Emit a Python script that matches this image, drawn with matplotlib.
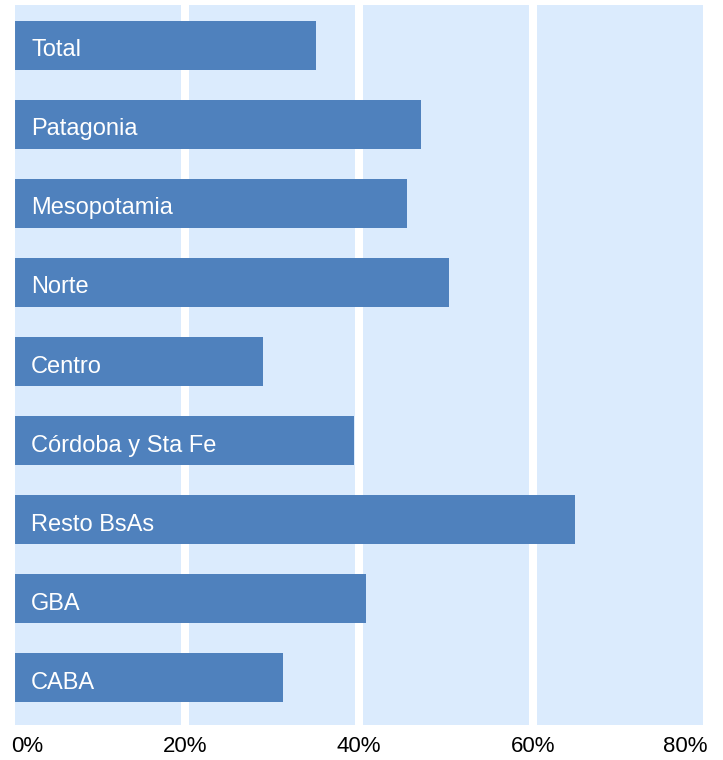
import matplotlib
matplotlib.use("Agg")
import matplotlib.pyplot as plt
import numpy as np

plt.rcParams["font.family"] = ["Liberation Sans", "DejaVu Sans"]

# regions, top to bottom
regions = ["Total", "Patagonia", "Mesopotamia", "Norte", "Centro",
           "Córdoba y Sta Fe", "Resto BsAs", "GBA", "CABA"]
shares = [35.0, 47.1, 45.5, 50.3, 29.0, 39.4, 64.8, 40.8, 31.3]
xticks = [0, 20, 40, 60, 80]
xticklabels = ["0%", "20%", "40%", "60%", "80%"]

bar_color = "#4F81BD"
bg_color = "#DBEBFD"

W, H = 723, 760
fig = plt.figure(figsize=(W / 100, H / 100), dpi=100)
ax = fig.add_axes([11 / W, 1 - 725 / H, 696 / W, 720 / H])
ax.set_facecolor(bg_color)

y = np.arange(len(regions))[::-1]
ax.barh(y, shares, height=0.625, color=bar_color, zorder=2)
for yi, name in zip(y, regions):
    ax.text(2.3, yi - 0.14, name, color="white", fontsize=17,
            va="baseline", ha="left", zorder=4)

# white bands at the axis ends, over the bars
for xe in (0, 80):
    ax.axvline(xe, color="white", linewidth=5.8, zorder=3)

ax.set_xlim(0, 80)
ax.set_ylim(-0.60, 8.51)
ax.set_xticks(xticks)
ax.set_xticklabels(xticklabels, fontsize=16)
labels = ax.get_xticklabels()
labels[0].set_ha("left")
labels[-1].set_ha("right")
ax.set_yticks([])
ax.tick_params(axis="x", length=0, pad=8)
ax.grid(axis="x", color="white", linewidth=5.8, zorder=1)
ax.set_axisbelow(True)
for s in ax.spines.values():
    s.set_visible(False)

fig.savefig("out.png", dpi=100)
